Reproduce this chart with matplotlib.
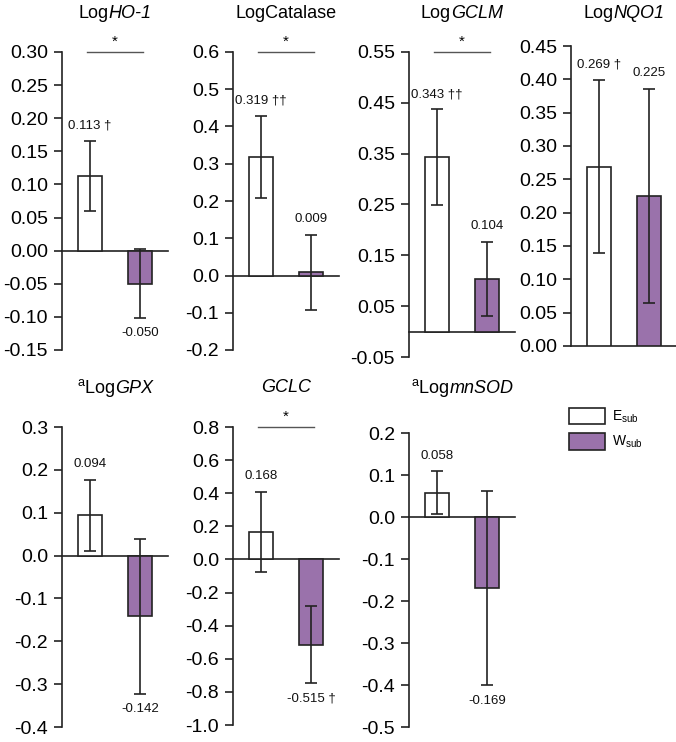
import matplotlib
matplotlib.use('Agg')
import matplotlib.pyplot as plt
from matplotlib.patches import Patch
from matplotlib.offsetbox import TextArea, HPacker, AnnotationBbox

plt.rcParams['font.family'] = ['Liberation Sans', 'DejaVu Sans']
plt.rcParams['mathtext.fontset'] = 'custom'
plt.rcParams['mathtext.rm'] = 'Liberation Sans'
plt.rcParams['mathtext.it'] = 'Liberation Sans:italic'

# data
title_plain = ['Log', 'LogCatalase', 'Log', 'Log', r'$^{\mathrm{a}}$Log', '', r'$^{\mathrm{a}}$Log']
title_ital = ['HO-1', '', 'GCLM', 'NQO1', 'GPX', 'GCLC', 'mnSOD']
e_mean = [0.113, 0.319, 0.343, 0.269, 0.094, 0.168, 0.058]
w_mean = [-0.050, 0.009, 0.104, 0.225, -0.142, -0.515, -0.169]
e_err = [0.053, 0.110, 0.094, 0.130, 0.083, 0.242, 0.051]
w_err = [0.052, 0.101, 0.073, 0.161, 0.181, 0.233, 0.232]
e_mark = [' †', ' ††', ' ††', ' †', '', '', '']
w_mark = ['', '', '', '', '', ' †', '']
sig = [True, True, True, False, False, True, False]
ylims = [(-0.15, 0.30), (-0.2, 0.6), (-0.05, 0.55), (0.0, 0.45),
         (-0.4, 0.3), (-1.0, 0.8), (-0.5, 0.2)]
ysteps = [0.05, 0.1, 0.1, 0.05, 0.1, 0.2, 0.1]
ydec = [2, 1, 2, 2, 1, 1, 1]
groups = ['E$_{\\mathrm{sub}}$', 'W$_{\\mathrm{sub}}$']

purple = '#9a72ab'
edge = '#222222'

W, H = 676, 742
fig = plt.figure(figsize=(W / 100, H / 100), dpi=100)

# axes boxes in pixels: left, top, bottom
boxes = [(62, 52, 350), (233, 52, 350), (409, 52, 357), (571, 46, 346),
         (62, 427, 727), (233, 427, 725), (409, 433, 727)]
title_y = [13, 13, 13, 13, 388, 388, 388]
ax_w = 106


def fmt(v, d):
    s = f'{v:.{d}f}'
    if abs(v) < 1e-9:
        s = s.lstrip('-')
    return s


for i in range(7):
    l, t, b = boxes[i]
    ax = fig.add_axes([l / W, 1 - b / H, ax_w / W, (b - t) / H])
    ax.set_xlim(-0.55, 1.55)
    lo, hi = ylims[i]
    ax.set_ylim(lo, hi)
    n = int(round((hi - lo) / ysteps[i]))
    ticks = [lo + k * ysteps[i] for k in range(n + 1)]
    ax.set_yticks(ticks)
    ax.set_yticklabels([fmt(v, ydec[i]) for v in ticks], fontsize=14)
    ax.set_xticks([])
    for s in ['top', 'right', 'bottom']:
        ax.spines[s].set_visible(False)
    ax.spines['left'].set_linewidth(1.2)
    ax.spines['left'].set_color(edge)
    ax.tick_params(axis='y', direction='out', length=6, width=1.2, color=edge, pad=4)
    ax.patch.set_alpha(0)
    ax.axhline(0, color=edge, lw=1.2, zorder=1, clip_on=False)

    ax.bar([0], [e_mean[i]], width=0.48, color='white', edgecolor=edge, lw=1.2, zorder=2)
    ax.bar([1], [w_mean[i]], width=0.48, color=purple, edgecolor=edge, lw=1.2, zorder=2)
    ax.errorbar([0, 1], [e_mean[i], w_mean[i]], yerr=[e_err[i], w_err[i]], fmt='none',
                ecolor=edge, elinewidth=1.2, capsize=4.5, capthick=1.2, zorder=3, clip_on=False)

    for x, m, e, mk in [(0, e_mean[i], e_err[i], e_mark[i]), (1, w_mean[i], w_err[i], w_mark[i])]:
        if m >= 0:
            ax.annotate(f'{m:.3f}{mk}', (x, m + e), xytext=(0, 11), textcoords='offset points',
                        ha='center', va='center', fontsize=9.5, color='#111111', annotation_clip=False)
        else:
            ax.annotate(f'{m:.3f}{mk}', (x, m - e), xytext=(0, -11), textcoords='offset points',
                        ha='center', va='center', fontsize=9.5, color='#111111', annotation_clip=False)

    if sig[i]:
        ax.plot([-0.05, 1.05], [hi, hi], color='#555555', lw=1.0, clip_on=False)
        ax.annotate('*', (0.5, hi), xytext=(0, 7), textcoords='offset points',
                    ha='center', va='center', fontsize=11, annotation_clip=False)

    # title with plain and italic parts
    parts = []
    if title_plain[i]:
        parts.append(TextArea(title_plain[i], textprops=dict(fontsize=13)))
    if title_ital[i]:
        parts.append(TextArea(title_ital[i], textprops=dict(fontsize=13, style='italic')))
    pack = HPacker(children=parts, align='baseline', pad=0, sep=0)
    ab = AnnotationBbox(pack, ((l + ax_w / 2) / W, 1 - title_y[i] / H), xycoords='figure fraction',
                        frameon=False, box_alignment=(0.5, 0.5), pad=0)
    fig.add_artist(ab)

handles = [Patch(facecolor='white', edgecolor=edge, lw=1.2),
           Patch(facecolor=purple, edgecolor=edge, lw=1.2)]
fig.legend(handles, groups, loc='upper left', bbox_to_anchor=(563 / W, 1 - 402 / H),
           frameon=False, fontsize=10, handlelength=2.6, handleheight=1.45,
           labelspacing=0.6, handletextpad=0.5, borderaxespad=0)

fig.savefig('out.png', dpi=100)
